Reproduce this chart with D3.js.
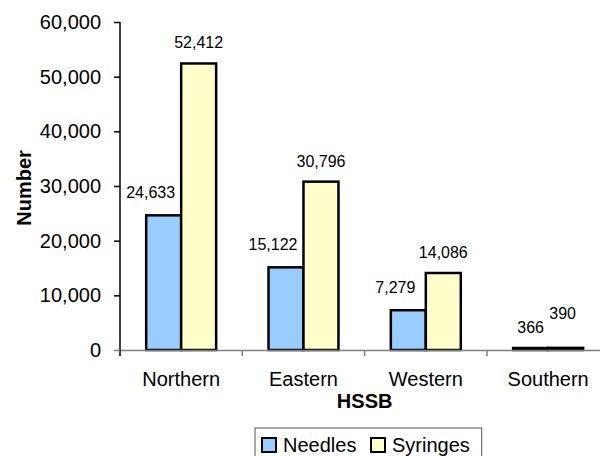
<!DOCTYPE html>
<html>
<head>
<meta charset="utf-8">
<script src="https://cdn.jsdelivr.net/npm/d3@7"></script>
<style>
  html, body { margin: 0; padding: 0; background: #fff; }
  svg { display: block; font-family: "Liberation Sans", Arial, sans-serif; }
</style>
</head>
<body>
<svg id="chart" width="600" height="456"></svg>
<script>
const categories = ["Northern", "Eastern", "Western", "Southern"];
const seriesNames = ["Needles", "Syringes"];
const needles = [24633, 15122, 7279, 366];
const syringes = [52412, 30796, 14086, 390];
const yTicks = [0, 10000, 20000, 30000, 40000, 50000, 60000];
const xTitle = "HSSB";
const yTitle = "Number";

const colors = { Needles: "#99CCFF", Syringes: "#FFFFCC" };
const seriesValues = { Needles: needles, Syringes: syringes };

const svg = d3.select("#chart");
const plot = { left: 120, right: 609.3, top: 22, bottom: 350 };

const x = d3.scaleBand().domain(categories).range([plot.left, plot.right]).padding(0);
const bw = x.bandwidth();
const x1 = d3.scaleBand().domain(seriesNames).range([bw * 0.214, bw * 0.786]).padding(0);
const y = d3.scaleLinear().domain([0, 60000]).range([plot.bottom, plot.top]);
const fmt = d3.format(",");

// Bars
categories.forEach((c, i) => {
  const g = svg.append("g").attr("transform", `translate(${x(c)},0)`);
  seriesNames.forEach(s => {
    const v = seriesValues[s][i];
    g.append("rect")
      .attr("x", x1(s))
      .attr("y", y(v))
      .attr("width", x1.bandwidth())
      .attr("height", y(0) - y(v))
      .attr("fill", colors[s])
      .attr("stroke", "#000")
      .attr("stroke-width", 2.5);
  });
});

// X axis (gray)
const xAxis = d3.axisBottom(x).tickSize(0).tickFormat("");
const gx = svg.append("g").attr("transform", `translate(0,${plot.bottom})`).call(xAxis);
gx.select(".domain").attr("stroke", "#808080").attr("stroke-width", 1.5);
// category boundary ticks
const boundaries = categories.map(c => x(c)).concat([plot.right]).slice(1);
gx.selectAll(".bt").data(boundaries).join("line")
  .attr("x1", d => d).attr("x2", d => d).attr("y1", 0).attr("y2", 6)
  .attr("stroke", "#808080").attr("stroke-width", 1.5);
// category labels
svg.append("g").selectAll("text").data(categories).join("text")
  .attr("x", d => x(d) + bw / 2)
  .attr("y", 386)
  .attr("text-anchor", "middle")
  .attr("font-size", 20)
  .attr("fill", "#000")
  .text(d => d);

// Y axis
const yAxis = d3.axisLeft(y).tickValues(yTicks).tickSize(6).tickPadding(13).tickFormat(fmt).tickSizeOuter(0);
const gy = svg.append("g").attr("transform", `translate(${plot.left},0)`).call(yAxis);
gy.select(".domain").attr("stroke", "#000").attr("stroke-width", 1.5)
  .attr("d", `M0,${plot.top}V${plot.bottom + 6}`);
gy.selectAll(".tick line").attr("stroke", (d) => d === 0 ? "#808080" : "#000").attr("stroke-width", 1.5);
gy.selectAll(".tick text").attr("font-size", 20).attr("fill", "#000")
  .attr("font-family", "Liberation Sans, Arial, sans-serif");

// Data labels
categories.forEach((c, i) => {
  const nv = needles[i], sv = syringes[i];
  const nCenter = x(c) + x1("Needles") + x1.bandwidth() / 2;
  const sCenter = x(c) + x1("Syringes") + x1.bandwidth() / 2;
  const nText = fmt(nv), sText = fmt(sv);
  const approxW = t => t.length * 8.5;
  let nx = nCenter, ny = y(nv) - 15;
  // if needles label would run into the taller syringes bar, nudge it left
  if (nCenter + approxW(nText) / 2 > x(c) + x1("Syringes") - 4 && ny > y(sv)) { nx -= 13; ny -= 2; }
  let sx = sCenter, sy = y(sv) - 15;
  if (Math.abs(sy - ny) < 14) { sy = ny - 14; sx -= 3; }
  svg.append("text").attr("x", nx).attr("y", ny).attr("text-anchor", "middle")
    .attr("font-size", 16).attr("fill", "#000").text(nText);
  svg.append("text").attr("x", sx).attr("y", sy).attr("text-anchor", "middle")
    .attr("font-size", 16).attr("fill", "#000").text(sText);
});

// Axis titles
svg.append("text")
  .attr("x", (plot.left + plot.right) / 2)
  .attr("y", 408)
  .attr("text-anchor", "middle")
  .attr("font-size", 20).attr("font-weight", "bold").attr("fill", "#000")
  .text(xTitle);
svg.append("text")
  .attr("transform", `translate(31,188) rotate(-90)`)
  .attr("text-anchor", "middle")
  .attr("font-size", 20).attr("font-weight", "bold").attr("fill", "#000")
  .text(yTitle);

// Legend
const lg = svg.append("g");
lg.append("rect").attr("x", 255).attr("y", 428).attr("width", 226.7).attr("height", 60)
  .attr("fill", "#fff").attr("stroke", "#555").attr("stroke-width", 1);
const legendX = [262, 371];
seriesNames.forEach((s, k) => {
  lg.append("rect").attr("x", legendX[k]).attr("y", 438).attr("width", 14).attr("height", 14)
    .attr("fill", colors[s]).attr("stroke", "#000").attr("stroke-width", 2);
  lg.append("text").attr("x", legendX[k] + 21).attr("y", 452)
    .attr("font-size", 20).attr("fill", "#000").text(s);
});
</script>
</body>
</html>
